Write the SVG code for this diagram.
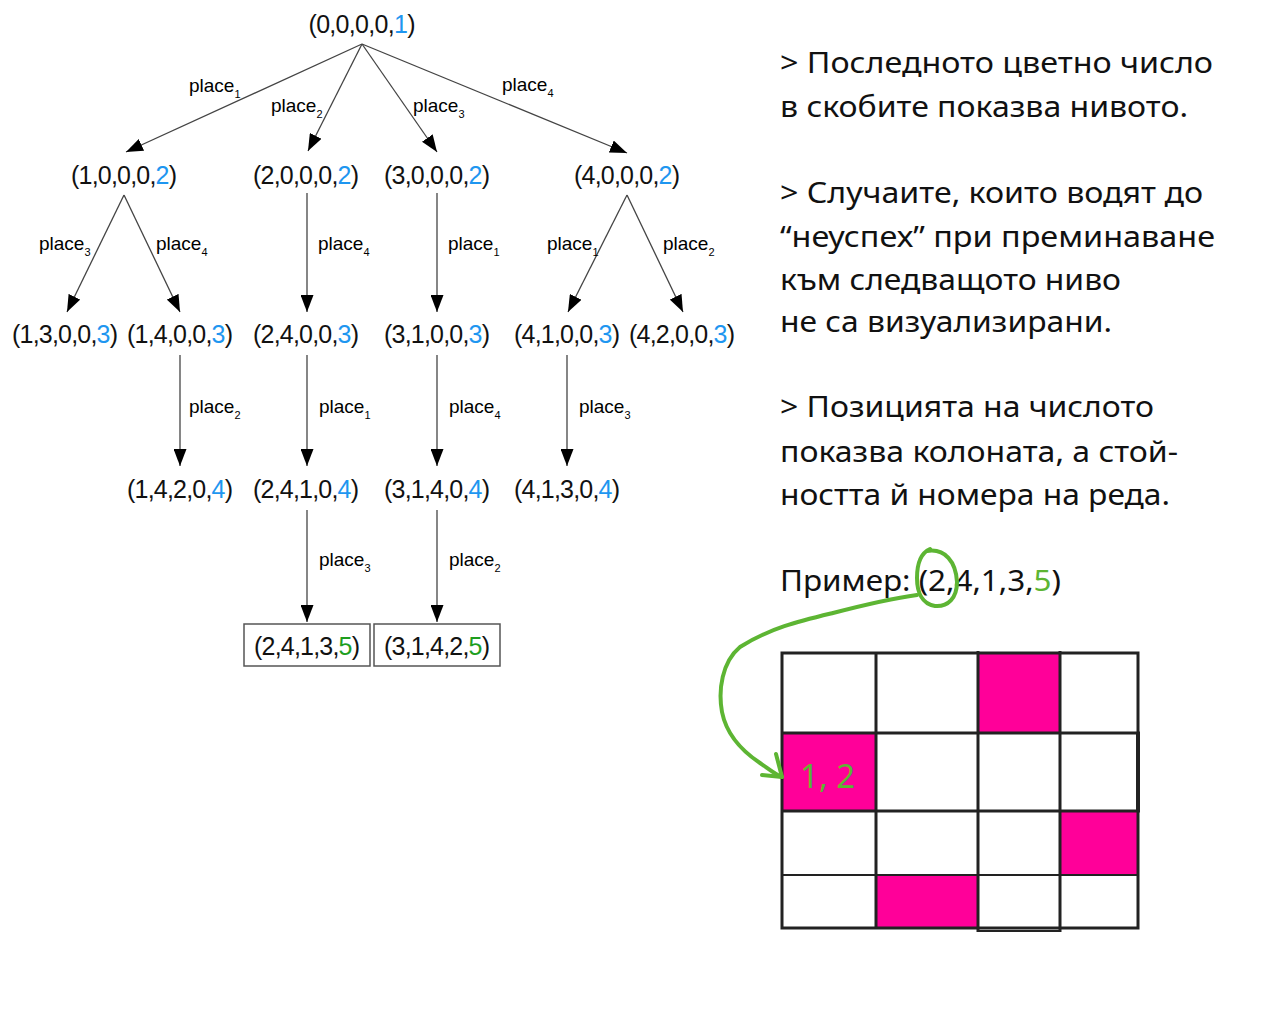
<svg xmlns="http://www.w3.org/2000/svg" width="1280" height="1024" viewBox="0 0 1280 1024">
<style>
.nd{font-family:"Liberation Sans",Arial,sans-serif;font-size:25px;fill:#111;text-anchor:middle}
.lv{fill:#1E96F0}
.gr{fill:#1E9E1E}
.lb{font-family:"Liberation Sans",Arial,sans-serif;font-size:19px;fill:#000}
.sb{font-size:11px}
.cn{stroke:#444;stroke-width:1.3;fill:none;marker-end:url(#ah)}
.bx{fill:#fff;stroke:#555;stroke-width:1.5}
.tx{font-family:"Noto Sans","Open Sans",sans-serif;font-size:29px;fill:#111}
.cell{fill:#FF0099}
.gl{stroke:#222;stroke-width:3;fill:none}
.an{stroke:#5DB533;stroke-width:4;fill:none;stroke-linecap:round;stroke-linejoin:round}
</style>
<defs>
<marker id="ah" markerUnits="userSpaceOnUse" markerWidth="17" markerHeight="13" refX="17" refY="6.5" orient="auto">
<path d="M0,0 L17,6.5 L0,13 z" fill="#000"/>
</marker>
</defs>
<rect width="1280" height="1024" fill="#fff"/>

<g id="connectors">
<line class="cn" x1="362" y1="44" x2="126" y2="152"/>
<line class="cn" x1="362" y1="44" x2="308" y2="151"/>
<line class="cn" x1="362" y1="44" x2="437" y2="152"/>
<line class="cn" x1="362" y1="44" x2="627" y2="153"/>
<line class="cn" x1="124" y1="195" x2="67" y2="312"/>
<line class="cn" x1="124" y1="195" x2="180" y2="312"/>
<line class="cn" x1="307" y1="193" x2="307" y2="312"/>
<line class="cn" x1="437" y1="193" x2="437" y2="312"/>
<line class="cn" x1="627" y1="195" x2="568" y2="312"/>
<line class="cn" x1="627" y1="195" x2="683" y2="312"/>
<line class="cn" x1="180" y1="355" x2="180" y2="466"/>
<line class="cn" x1="307" y1="355" x2="307" y2="466"/>
<line class="cn" x1="437" y1="355" x2="437" y2="466"/>
<line class="cn" x1="567" y1="355" x2="567" y2="466"/>
<line class="cn" x1="307" y1="510" x2="307" y2="622"/>
<line class="cn" x1="437" y1="510" x2="437" y2="622"/>
<g id="labels">
<text class="lb" x="189" y="92">place<tspan class="sb" dy="6">1</tspan></text>
<text class="lb" x="271" y="112">place<tspan class="sb" dy="6">2</tspan></text>
<text class="lb" x="413" y="112">place<tspan class="sb" dy="6">3</tspan></text>
<text class="lb" x="502" y="91">place<tspan class="sb" dy="6">4</tspan></text>
<text class="lb" x="39" y="250">place<tspan class="sb" dy="6">3</tspan></text>
<text class="lb" x="156" y="250">place<tspan class="sb" dy="6">4</tspan></text>
<text class="lb" x="318" y="250">place<tspan class="sb" dy="6">4</tspan></text>
<text class="lb" x="448" y="250">place<tspan class="sb" dy="6">1</tspan></text>
<text class="lb" x="547" y="250">place<tspan class="sb" dy="6">1</tspan></text>
<text class="lb" x="663" y="250">place<tspan class="sb" dy="6">2</tspan></text>
<text class="lb" x="189" y="413">place<tspan class="sb" dy="6">2</tspan></text>
<text class="lb" x="319" y="413">place<tspan class="sb" dy="6">1</tspan></text>
<text class="lb" x="449" y="413">place<tspan class="sb" dy="6">4</tspan></text>
<text class="lb" x="579" y="413">place<tspan class="sb" dy="6">3</tspan></text>
<text class="lb" x="319" y="566">place<tspan class="sb" dy="6">3</tspan></text>
<text class="lb" x="449" y="566">place<tspan class="sb" dy="6">2</tspan></text>
</g>
</g>

<g id="n0"><text class="nd" x="362" y="33" textLength="107">(0,0,0,0,<tspan class="lv">1</tspan>)</text></g>
<g id="n1"><text class="nd" x="124" y="184" textLength="106">(1,0,0,0,<tspan class="lv">2</tspan>)</text></g>
<g id="n2"><text class="nd" x="306" y="184" textLength="106">(2,0,0,0,<tspan class="lv">2</tspan>)</text></g>
<g id="n3"><text class="nd" x="437" y="184" textLength="106">(3,0,0,0,<tspan class="lv">2</tspan>)</text></g>
<g id="n4"><text class="nd" x="627" y="184" textLength="106">(4,0,0,0,<tspan class="lv">2</tspan>)</text></g>
<g id="n13"><text class="nd" x="65" y="343" textLength="106">(1,3,0,0,<tspan class="lv">3</tspan>)</text></g>
<g id="n14"><text class="nd" x="180" y="343" textLength="106">(1,4,0,0,<tspan class="lv">3</tspan>)</text></g>
<g id="n24"><text class="nd" x="306" y="343" textLength="106">(2,4,0,0,<tspan class="lv">3</tspan>)</text></g>
<g id="n31"><text class="nd" x="437" y="343" textLength="106">(3,1,0,0,<tspan class="lv">3</tspan>)</text></g>
<g id="n41"><text class="nd" x="567" y="343" textLength="106">(4,1,0,0,<tspan class="lv">3</tspan>)</text></g>
<g id="n42"><text class="nd" x="682" y="343" textLength="106">(4,2,0,0,<tspan class="lv">3</tspan>)</text></g>
<g id="n142"><text class="nd" x="180" y="498" textLength="106">(1,4,2,0,<tspan class="lv">4</tspan>)</text></g>
<g id="n241"><text class="nd" x="306" y="498" textLength="106">(2,4,1,0,<tspan class="lv">4</tspan>)</text></g>
<g id="n314"><text class="nd" x="437" y="498" textLength="106">(3,1,4,0,<tspan class="lv">4</tspan>)</text></g>
<g id="n413"><text class="nd" x="567" y="498" textLength="106">(4,1,3,0,<tspan class="lv">4</tspan>)</text></g>
<g id="n2413"><rect class="bx" x="244" y="624" width="126" height="42"/><text class="nd" x="307" y="655" textLength="106">(2,4,1,3,<tspan class="gr">5</tspan>)</text></g>
<g id="n3142"><rect class="bx" x="374" y="624" width="126" height="42"/><text class="nd" x="437" y="655" textLength="106">(3,1,4,2,<tspan class="gr">5</tspan>)</text></g>

<g id="notes">
<text class="tx" x="780" y="73" textLength="433" lengthAdjust="spacingAndGlyphs">&gt; Последното цветно число</text>
<text class="tx" x="780" y="117" textLength="408" lengthAdjust="spacingAndGlyphs">в скобите показва нивото.</text>
<text class="tx" x="780" y="203" textLength="423" lengthAdjust="spacingAndGlyphs">&gt; Случаите, които водят до</text>
<text class="tx" x="780" y="247" textLength="435" lengthAdjust="spacingAndGlyphs">“неуспех” при преминаване</text>
<text class="tx" x="780" y="290" textLength="341" lengthAdjust="spacingAndGlyphs">към следващото ниво</text>
<text class="tx" x="780" y="332" textLength="332" lengthAdjust="spacingAndGlyphs">не са визуализирани.</text>
<text class="tx" x="780" y="417" textLength="374" lengthAdjust="spacingAndGlyphs">&gt; Позицията на числото</text>
<text class="tx" x="780" y="462" textLength="398" lengthAdjust="spacingAndGlyphs">показва колоната, а стой-</text>
<text class="tx" x="780" y="505" textLength="390" lengthAdjust="spacingAndGlyphs">ността й номера на реда.</text>
<text class="tx" x="780" y="591" textLength="281" lengthAdjust="spacingAndGlyphs">Пример: (2,4,1,3,<tspan fill="#5DB533">5</tspan>)</text>
</g>

<g id="board">
<rect class="cell" x="978" y="653" width="82" height="80"/>
<rect class="cell" x="782" y="733" width="94" height="78"/>
<rect class="cell" x="1060" y="811" width="78" height="64"/>
<rect class="cell" x="876" y="875" width="102" height="53"/>
<rect class="gl" x="782" y="653" width="356" height="275"/>
<line class="gl" x1="876" y1="653" x2="876" y2="928"/>
<line class="gl" x1="978" y1="651" x2="978" y2="932"/>
<line class="gl" x1="1060" y1="651" x2="1060" y2="932"/>
<line class="gl" x1="782" y1="733" x2="1140" y2="733"/>
<line class="gl" x1="782" y1="811" x2="1140" y2="811"/>
<line class="gl" x1="1138" y1="733" x2="1138" y2="811" style="stroke-width:4"/>
<line class="gl" x1="782" y1="875" x2="1138" y2="875" style="stroke-width:2"/>
<line class="gl" x1="978" y1="931" x2="1060" y2="931" style="stroke-width:2"/>
<text x="800" y="788" style="font-family:'Noto Sans','Open Sans',sans-serif;font-size:33px;fill:#5DB533">1, 2</text>
</g>

<g id="annotation">
<path class="an" d="M927,551 C945,548 956,562 957,582 C957,598 948,607 935,606 C922,604 917,592 917,578 C917,563 921,553 930,549"/>
<path class="an" d="M917,595 C895,598 860,606 833,613 C800,621 770,628 740,647 C722,662 718,690 722,712 C727,737 745,753 760,763 C770,770 776,775 782,777"/>
<path class="an" d="M762,775 L782,777 L776,754"/>
</g>
</svg>
